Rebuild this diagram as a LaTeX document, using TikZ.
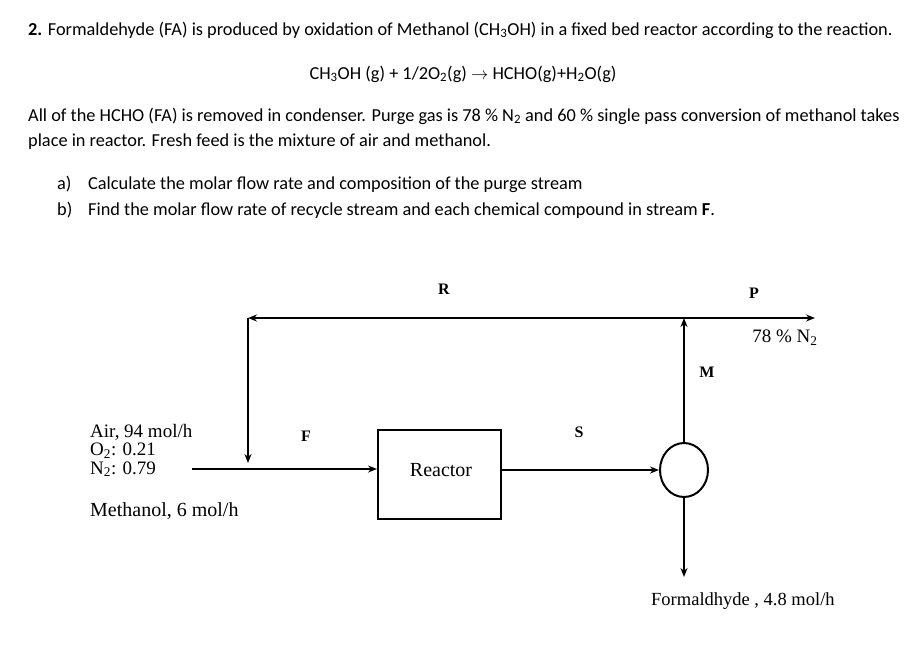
\documentclass[tikz,border=0pt]{standalone}
\usepackage{fontspec}
\setmainfont{Carlito}
\newfontfamily\tnr{Liberation Serif}
\usetikzlibrary{arrows.meta,shapes.geometric}
\begin{document}
\begin{tikzpicture}[x=1pt,y=-1pt,
  hdr/.style={anchor=base west, inner sep=0pt, font=\fontsize{18.3}{20}\selectfont},
  lbl/.style={inner sep=0pt, font=\tnr\fontsize{20}{20}\selectfont},
  tag/.style={inner sep=0pt, font=\tnr\bfseries\fontsize{16}{16}\selectfont},
  unit/.style={draw, line width=2pt, inner sep=0pt},
  flow/.style={line width=2pt, -{Stealth[length=9pt,width=7pt]}},
  ]
\useasboundingbox[fill=white] (0,0) rectangle (924,665);
% header text
\node[hdr] (l1) at (28,35) {\textbf{2.} Formaldehyde (FA) is produced by oxidation of Methanol (CH\textsubscript{3}OH) in a fixed bed reactor according to the reaction.};
\node[hdr, anchor=base] (eq) at (463,79) {CH\textsubscript{3}OH (g) + 1/2O\textsubscript{2}(g) $\rightarrow$ HCHO(g)+H\textsubscript{2}O(g)};
\node[hdr] (l3) at (28,121) {All of the HCHO (FA) is removed in condenser. Purge gas is 78 \% N\textsubscript{2} and 60 \% single pass conversion of methanol takes};
\node[hdr] (l4) at (28,146) {place in reactor. Fresh feed is the mixture of air and methanol.};
\node[hdr] (qa) at (57,189) {a)};
\node[hdr] (qat) at (88,189) {Calculate the molar flow rate and composition of the purge stream};
\node[hdr] (qb) at (57,215) {b)};
\node[hdr] (qbt) at (88,215) {Find the molar flow rate of recycle stream and each chemical compound in stream \textbf{F}.};
% units
\node[unit, minimum width=123pt, minimum height=89pt] (reactor) at (439.5,474.5) {};
\node[lbl] (reactortxt) at (441,470) {Reactor};
\node[unit, ellipse, minimum width=48pt, minimum height=54pt] (sep) at (684,470) {};
% coordinates
\coordinate (feedstart) at (192,469);
\coordinate (rtop) at (248,318);
\coordinate (mix) at (248,463);
\coordinate (split) at (684,318);
\coordinate (purge) at (815,318);
\coordinate (fa) at (684,577);
% streams
\draw[flow] (feedstart) -- (reactor.west |- feedstart);
\draw[flow] (split) -- (rtop);
\draw[flow] (rtop) -- (mix);
\draw[flow] (reactor.east |- sep.west) -- (sep.west);
\draw[flow] (sep.north) -- (split);
\draw[flow] (split) -- (purge);
\draw[flow] (sep.south) -- (fa);
% stream tags
\node[tag] (tR) at (444,289) {R};
\node[tag] (tP) at (754,293) {P};
\node[tag] (tF) at (306,436) {F};
\node[tag] (tS) at (579,432) {S};
\node[tag] (tM) at (707,372) {M};
% labels
\node[lbl, font=\tnr\fontsize{19}{19}\selectfont] (n2p) at (785,338) {78 \% N\textsubscript{2}};
\node[lbl, anchor=base west, align=left, font=\tnr\fontsize{19}{18.5}\selectfont] (air) at (90,474) {Air, 94 mol/h\\O\textsubscript{2}: 0.21\\N\textsubscript{2}: 0.79};
\node[lbl, anchor=base west] (meoh) at (90,516) {Methanol, 6 mol/h};
\node[lbl, anchor=base west, font=\tnr\fontsize{18.5}{19}\selectfont] (fatxt) at (651,605) {Formaldhyde , 4.8 mol/h};
\end{tikzpicture}
\end{document}
